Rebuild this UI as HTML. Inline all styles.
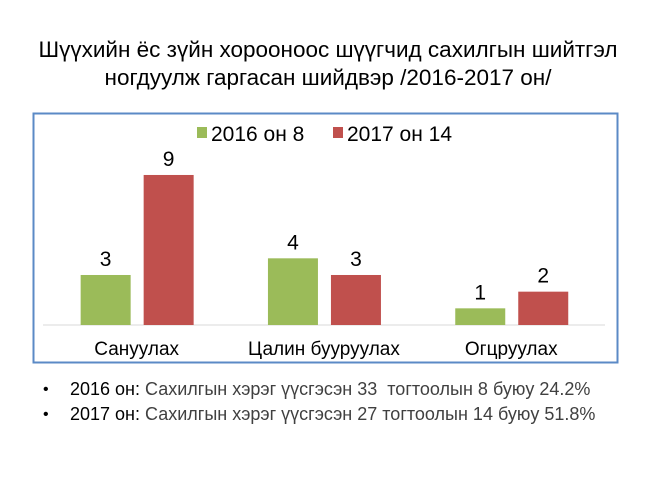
<!DOCTYPE html>
<html><head><meta charset="utf-8"><style>
body{margin:0;width:650px;height:487px;background:#fff;font-family:"Liberation Sans",sans-serif;position:relative;overflow:hidden}
.t{position:absolute;left:0;width:656px;text-align:center;font-size:22.5px;color:#000;white-space:nowrap}
.b{position:absolute;font-size:18px;color:#000;white-space:nowrap}
.b span.g{color:#404040}
.d{position:absolute;left:43px;font-size:16px}
</style></head><body>
<div class="t" style="top:37px">Шүүхийн ёс зүйн хорооноос шүүгчид сахилгын шийтгэл</div>
<div class="t" style="top:65px">ногдуулж гаргасан шийдвэр /2016-2017 он/</div>
<svg width="650" height="487" style="position:absolute;left:0;top:0">
<rect x="33.5" y="113.5" width="584" height="249" fill="none" stroke="#5b8ac6" stroke-width="2"/>
<line x1="43" y1="325" x2="605" y2="325" stroke="#d9d9d9"/>
<g id="bars"></g>
<rect x="197" y="127" width="10" height="11" fill="#9bbb59"/>
<text x="211" y="141" font-size="21" font-family="Liberation Sans">2016 он 8</text>
<rect x="333" y="127" width="10" height="11" fill="#c0504d"/>
<text x="347" y="141" font-size="21" font-family="Liberation Sans">2017 он 14</text>
</svg>
<div class="b d" style="top:381px">•</div>
<div class="b" style="left:70px;top:379px">2016 он: <span class="g">Сахилгын хэрэг үүсгэсэн 33&nbsp; тогтоолын 8 буюу 24.2%</span></div>
<div class="b d" style="top:406px">•</div>
<div class="b" style="left:70px;top:404px">2017 он: <span class="g">Сахилгын хэрэг үүсгэсэн 27 тогтоолын 14 буюу 51.8%</span></div>
<script>
const categories=["Сануулах","Цалин бууруулах","Огцруулах"];
const values2016=[3,4,1];
const values2017=[9,3,2];
const ns="http://www.w3.org/2000/svg";
const g=document.getElementById('bars');
const baseY=325, unit=16.67, left=43, band=187.3, bw=50;
function y(v){return baseY-v*unit;}
function cx(i){return left+band*(i+0.5);}
function mk(tag,attrs){const e=document.createElementNS(ns,tag);for(const k in attrs)e.setAttribute(k,attrs[k]);g.appendChild(e);return e;}
categories.forEach((c,i)=>{
  [[values2016,'#9bbb59',-56,'2016'],[values2017,'#c0504d',7,'2017']].forEach(([arr,col,off,s])=>{
    const x=cx(i)+off, v=arr[i];
    const r=mk('rect',{x:x,y:y(v),width:bw,height:v*unit,fill:col});
    
    
    const t=mk('text',{x:x+bw/2,y:y(v)-9,'text-anchor':'middle','font-size':21,'font-family':'Liberation Sans'});
    t.textContent=v;
    
    
  });
  const l=mk('text',{x:cx(i),y:355,'text-anchor':'middle','font-size':19,'font-family':'Liberation Sans'});
  l.textContent=c;
  
  
});
</script>
</body></html>
